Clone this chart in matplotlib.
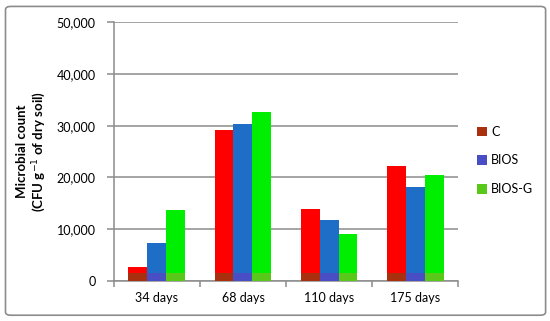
import numpy as np
import matplotlib
matplotlib.use('Agg')
import matplotlib.pyplot as plt
from matplotlib.patches import FancyBboxPatch

plt.rcParams['font.family'] = ['Lato', 'DejaVu Sans']

## data
days = ['34 days', '68 days', '110 days', '175 days']
series = ['C', 'BIOS', 'BIOS-G']
C_vals = [2700, 29200, 13900, 22200]
BIOS_vals = [7300, 30300, 11800, 18200]
BIOSG_vals = [13700, 32700, 9100, 20400]

## styling
main_colors = ['#ff0000', '#1e6ec8', '#00ee00']
base_colors = ['#a8300e', '#4a4ec4', '#5ac818']
base_h = 1500       # darker strip at the foot of each bar
grey = '#8c8c8c'
fs = 9

fig = plt.figure(figsize=(5.5, 3.21), dpi=100)
ax = fig.add_axes([0.207, 0.1246, 0.626, 0.8064])

# outer frame
fig.patches.append(FancyBboxPatch((0.01, 0.018), 0.982, 0.962,
                                  boxstyle='round,pad=0,rounding_size=0.01',
                                  transform=fig.transFigure, fill=False,
                                  edgecolor=grey, linewidth=1.2))

index = np.arange(len(days))
bar_width = 0.22
for k, vals in enumerate([C_vals, BIOS_vals, BIOSG_vals]):
    x = index + (k - 1) * bar_width
    ax.bar(x, vals, bar_width, color=main_colors[k], linewidth=0, zorder=3)
    ax.bar(x, np.minimum(vals, base_h), bar_width, color=base_colors[k],
           linewidth=0, zorder=3, label=series[k])

ax.set_xlim(-0.5, len(days) - 0.5)
ax.set_ylim(0, 50000)
ax.set_yticks(np.arange(0, 50001, 10000))
ax.set_yticklabels(['{:,}'.format(v) for v in range(0, 50001, 10000)],
                   fontsize=fs)
ax.yaxis.grid(True, color=grey, linewidth=1.1, zorder=0)
ax.set_xticks(index)
ax.set_xticklabels(days, fontsize=fs)
ax.set_xticks(np.arange(-0.5, len(days)), minor=True)
ax.tick_params(axis='x', which='major', length=0, pad=8)
ax.tick_params(axis='x', which='minor', length=4, color=grey, width=1.1)
ax.tick_params(axis='y', length=5, color=grey, width=1.1, pad=8)

for s in ['top', 'right']:
    ax.spines[s].set_visible(False)
for s in ['left', 'bottom']:
    ax.spines[s].set_color(grey)
    ax.spines[s].set_linewidth(1.1)

ax.set_ylabel('Microbial count\n(CFU g$^{-1}$ of dry soil)', fontsize=9.5,
              fontweight='bold', labelpad=6, linespacing=1.2)

handles, labels = ax.get_legend_handles_labels()
fig.legend(handles, labels, loc='center left', bbox_to_anchor=(0.868, 0.50),
           frameon=False, fontsize=fs, handlelength=0.8, handleheight=0.8,
           handletextpad=0.3, labelspacing=1.35, borderpad=0, borderaxespad=0)

fig.savefig('out.png', dpi=100)
